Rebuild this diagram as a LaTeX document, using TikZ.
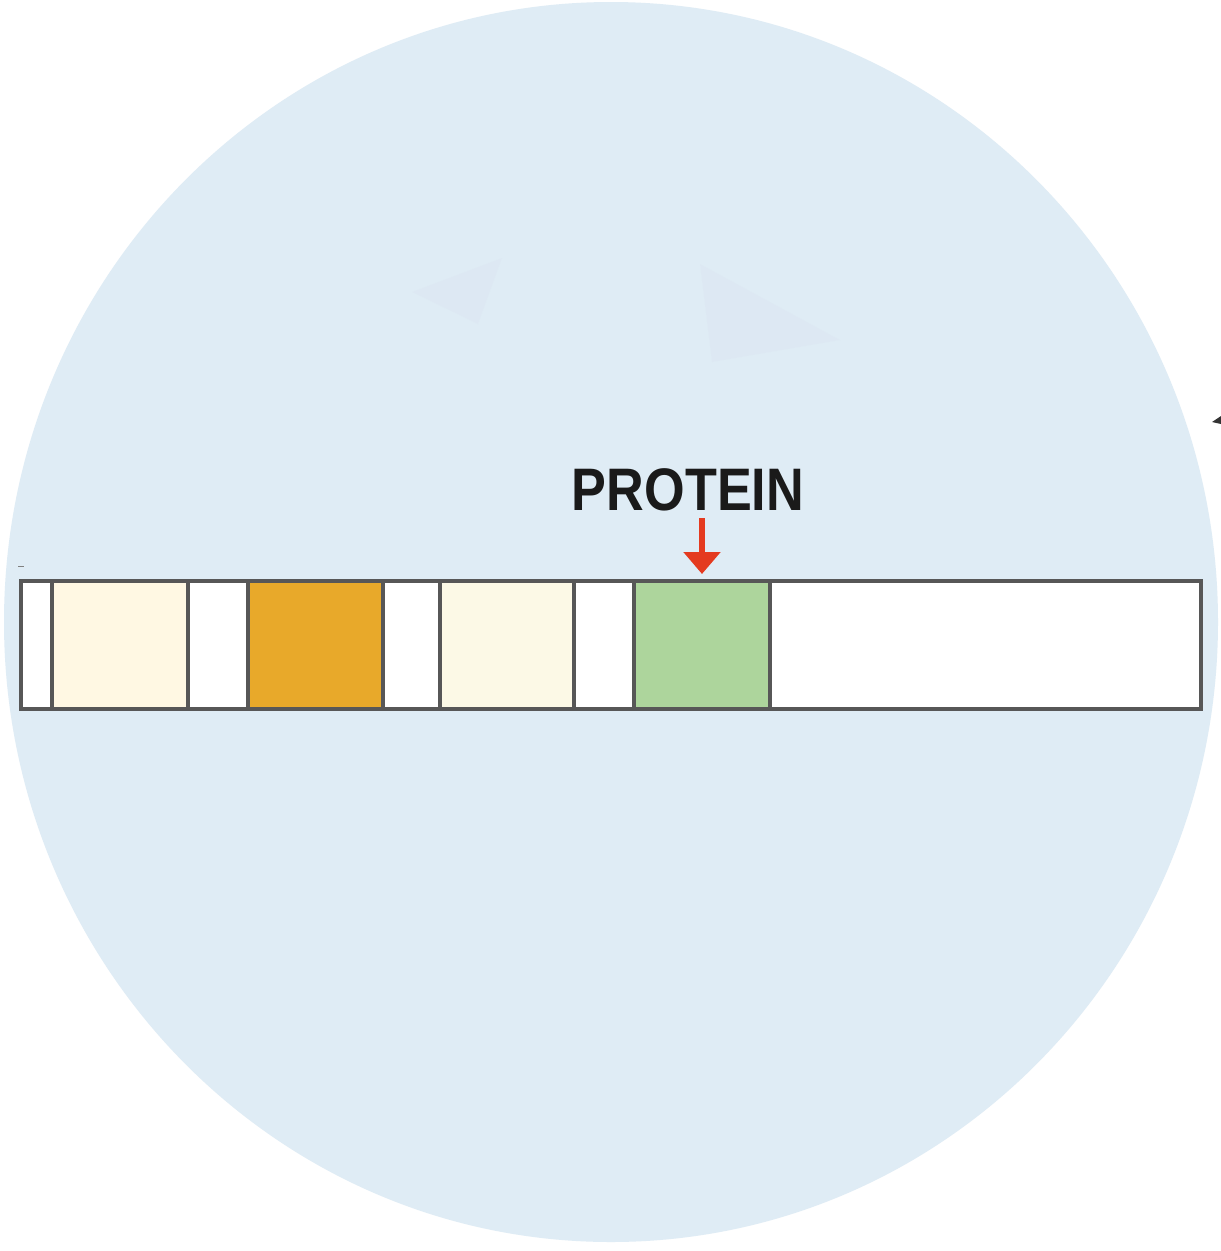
\documentclass[tikz,border=0pt]{standalone}
\usepackage{fontspec}
\setmainfont{Liberation Sans}
\usetikzlibrary{arrows.meta}
\definecolor{discblue}{HTML}{DFECF5}
\definecolor{faintblue}{HTML}{DCE6F2}
\definecolor{outline}{HTML}{575757}
\definecolor{creamA}{HTML}{FFF8E3}
\definecolor{creamB}{HTML}{FCF9E6}
\definecolor{amber}{HTML}{E8A92A}
\definecolor{padgreen}{HTML}{ADD59C}
\definecolor{arrowred}{HTML}{E43A1F}
\definecolor{labelink}{HTML}{1A1A1A}
\tikzset{
  seg/.style={draw=outline, line width=4pt, inner sep=0pt, outer sep=0pt, minimum height=128pt, anchor=west},
  redarrow/.style={draw=arrowred, line width=6pt, -{Triangle[width=36pt,length=22pt]}},
  lbl/.style={font=\bfseries\fontsize{60}{60}\selectfont, text=labelink, inner sep=0pt, anchor=base, xscale=0.87}
}
\begin{document}
\begin{tikzpicture}[x=1pt,y=-1pt]
\useasboundingbox (0,0) rectangle (1221,1251);
\fill[white] (0,0) rectangle (1221,1251);
% disc
\fill[discblue] (611,622) ellipse [x radius=607, y radius=620];
% faint shapes
\fill[faintblue, opacity=0.5] (412,292) -- (502,258) -- (478,324) -- cycle;
\fill[faintblue, opacity=0.5] (700,264) -- (840,340) -- (712,362) -- cycle;
% tiny marks
\fill[black!80] (1212,422) -- (1221,416) -- (1221,424) -- cycle;
\draw[black!50, line width=1pt] (18,566) -- (24,566);
% strip segments
\node[seg, fill=white,    minimum width=31pt]  (s1) at (21,645) {};
\node[seg, fill=creamA,   minimum width=136pt] (s2) at (52,645) {};
\node[seg, fill=white,    minimum width=60pt]  (s3) at (188,645) {};
\node[seg, fill=amber,    minimum width=135pt] (s4) at (248,645) {};
\node[seg, fill=white,    minimum width=57pt]  (s5) at (383,645) {};
\node[seg, fill=creamB,   minimum width=134pt] (s6) at (440,645) {};
\node[seg, fill=white,    minimum width=60pt]  (s7) at (574,645) {};
\node[seg, fill=padgreen, minimum width=136pt] (green) at (634,645) {};
\node[seg, fill=white,    minimum width=431pt] (s9) at (770,645) {};
% label and arrow
\node[lbl] (lab) at (688,510) {PROTEIN};
\coordinate (astart) at (green.north |- 0,518);
\draw[redarrow, shorten >=7pt] (astart) -- (green.north);
\end{tikzpicture}
\end{document}
